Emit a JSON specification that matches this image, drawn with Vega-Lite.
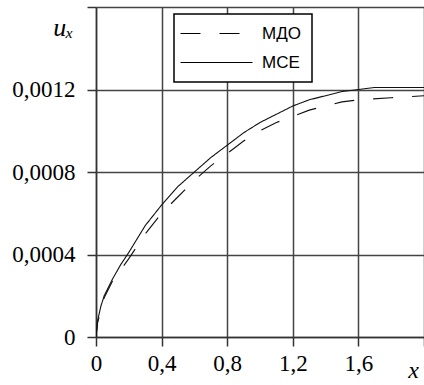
{
  "$schema": "https://vega.github.io/schema/vega-lite/v6.json",
  "width": 328,
  "height": 330,
  "autosize": {"type": "none"},
  "padding": {"left": 96, "top": 7, "right": 0, "bottom": 48},
  "background": "white",
  "config": {"view": {"stroke": null}},
  "data": {
    "values": [
      {"x": 0, "u": 0, "s": "МСЕ"},
      {"x": 0.01, "u": 0.00008, "s": "МСЕ"},
      {"x": 0.03, "u": 0.00015, "s": "МСЕ"},
      {"x": 0.05, "u": 0.0002, "s": "МСЕ"},
      {"x": 0.1, "u": 0.00028, "s": "МСЕ"},
      {"x": 0.15, "u": 0.00035, "s": "МСЕ"},
      {"x": 0.2, "u": 0.00041, "s": "МСЕ"},
      {"x": 0.3, "u": 0.00054, "s": "МСЕ"},
      {"x": 0.4, "u": 0.00064, "s": "МСЕ"},
      {"x": 0.5, "u": 0.00073, "s": "МСЕ"},
      {"x": 0.6, "u": 0.0008, "s": "МСЕ"},
      {"x": 0.7, "u": 0.00087, "s": "МСЕ"},
      {"x": 0.8, "u": 0.00093, "s": "МСЕ"},
      {"x": 0.9, "u": 0.00099, "s": "МСЕ"},
      {"x": 1.0, "u": 0.00104, "s": "МСЕ"},
      {"x": 1.1, "u": 0.00108, "s": "МСЕ"},
      {"x": 1.2, "u": 0.00112, "s": "МСЕ"},
      {"x": 1.3, "u": 0.00115, "s": "МСЕ"},
      {"x": 1.4, "u": 0.00117, "s": "МСЕ"},
      {"x": 1.5, "u": 0.00119, "s": "МСЕ"},
      {"x": 1.6, "u": 0.0012, "s": "МСЕ"},
      {"x": 1.7, "u": 0.00121, "s": "МСЕ"},
      {"x": 1.8, "u": 0.00121, "s": "МСЕ"},
      {"x": 2.0, "u": 0.00121, "s": "МСЕ"},
      {"x": 0, "u": 0, "s": "МДО"},
      {"x": 0.01, "u": 0.00007, "s": "МДО"},
      {"x": 0.05, "u": 0.00019, "s": "МДО"},
      {"x": 0.1, "u": 0.00027, "s": "МДО"},
      {"x": 0.2, "u": 0.00038, "s": "МДО"},
      {"x": 0.3, "u": 0.0005, "s": "МДО"},
      {"x": 0.4, "u": 0.0006, "s": "МДО"},
      {"x": 0.5, "u": 0.00068, "s": "МДО"},
      {"x": 0.6, "u": 0.00076, "s": "МДО"},
      {"x": 0.7, "u": 0.00083, "s": "МДО"},
      {"x": 0.8, "u": 0.00089, "s": "МДО"},
      {"x": 0.9, "u": 0.00095, "s": "МДО"},
      {"x": 1.0, "u": 0.001, "s": "МДО"},
      {"x": 1.1, "u": 0.00104, "s": "МДО"},
      {"x": 1.2, "u": 0.00107, "s": "МДО"},
      {"x": 1.3, "u": 0.0011, "s": "МДО"},
      {"x": 1.4, "u": 0.00112, "s": "МДО"},
      {"x": 1.5, "u": 0.00114, "s": "МДО"},
      {"x": 1.6, "u": 0.00115, "s": "МДО"},
      {"x": 1.8, "u": 0.00116, "s": "МДО"},
      {"x": 2.0, "u": 0.00117, "s": "МДО"}
    ]
  },
  "mark": {"type": "line", "stroke": "#111", "strokeWidth": 1.1, "clip": true},
  "encoding": {
    "x": {
      "field": "x", "type": "quantitative",
      "scale": {"domain": [0, 2], "nice": false},
      "axis": {
        "values": [0, 0.4, 0.8, 1.2, 1.6, 2.0],
        "labelExpr": "datum.value >= 2 ? '' : replace(toString(datum.value), '.', ',')",
        "grid": true, "gridColor": "#444", "gridWidth": 1.5, "gridOpacity": 1,
        "domainColor": "#333", "domainWidth": 1.5,
        "tickColor": "#333", "tickWidth": 1.5, "tickSize": 9,
        "labelFont": "Liberation Serif", "labelFontSize": 23, "labelColor": "black",
        "labelPadding": 6, "labelFlush": false, "labelOverlap": false,
        "title": "x", "titleFont": "Liberation Serif", "titleFontStyle": "italic",
        "titleFontWeight": "normal", "titleFontSize": 24, "titleColor": "black",
        "titleX": 317, "titleY": 40, "titleAlign": "center", "titleBaseline": "alphabetic"
      }
    },
    "y": {
      "field": "u", "type": "quantitative",
      "scale": {"domain": [0, 0.0016], "nice": false},
      "axis": {
        "values": [0, 0.0004, 0.0008, 0.0012, 0.0016],
        "labelExpr": "datum.value >= 0.0016 ? '' : replace(toString(datum.value), '.', ',')",
        "grid": true, "gridColor": "#444", "gridWidth": 1.5, "gridOpacity": 1,
        "domainColor": "#333", "domainWidth": 1.5,
        "tickColor": "#333", "tickWidth": 1.5, "tickSize": 9,
        "labelFont": "Liberation Serif", "labelFontSize": 23, "labelColor": "black",
        "labelPadding": 12, "labelFlush": false, "labelOverlap": false,
        "title": "uₓ", "titleFont": "Liberation Serif", "titleFontStyle": "italic",
        "titleFontWeight": "normal", "titleFontSize": 26, "titleColor": "black",
        "titleAngle": 0, "titleX": -33, "titleY": 28, "titleAlign": "center", "titleBaseline": "alphabetic"
      }
    },
    "strokeDash": {
      "field": "s", "type": "nominal",
      "scale": {"domain": ["МДО", "МСЕ"], "range": [[20, 19], [1, 0]]},
      "legend": {
        "orient": "none", "legendX": 78, "legendY": 7, "title": null,
        "strokeColor": "black", "fillColor": "white",
        "padding": 11, "symbolType": "M-6,0H6", "symbolSize": 144,
        "symbolStrokeWidth": 1.2, "symbolStrokeColor": "black", "symbolOffset": 23,
        "labelFont": "Liberation Sans", "labelFontSize": 17, "labelColor": "black",
        "labelOffset": 37, "rowPadding": 11,
        "encode": {"legend": {"update": {"strokeWidth": {"value": 1.5}}}}
      }
    }
  }
}
